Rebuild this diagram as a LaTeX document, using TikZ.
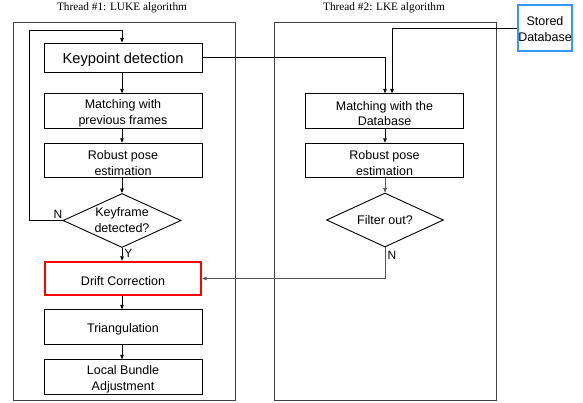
\documentclass[tikz,border=0pt]{standalone}
\usepackage{fontspec}
\setmainfont{Liberation Sans}
\newfontfamily\titlefont{Liberation Serif}
\usetikzlibrary{shapes.geometric,arrows.meta}
\definecolor{framegray}{HTML}{404040}
\definecolor{linkgray}{HTML}{555555}
\definecolor{dbblue}{HTML}{3399FF}
\tikzset{
  frame/.style={draw=framegray,line width=0.9pt},
  stepbox/.style={draw=black,line width=0.9pt,minimum width=158pt,minimum height=34.5pt,inner sep=0pt},
  boxtext/.style={inner sep=0pt,yshift=-2.5pt,align=center,font=\fontsize{12.5}{15.5}\selectfont},
  decision/.style={draw=black,line width=0.9pt,diamond,aspect=2.2,inner sep=0pt,
    minimum width=118pt,minimum height=54pt,align=center,font=\fontsize{12.5}{16}\selectfont},
  flow/.style={draw=black,line width=0.7pt,-{Triangle[length=4.5pt,width=3.5pt]}},
  link/.style={draw=linkgray,line width=0.7pt,-{Triangle[length=4.5pt,width=3.5pt]}},
  tag/.style={font=\fontsize{12}{14}\selectfont,inner sep=0pt},
  threadtitle/.style={font=\titlefont\fontsize{11.3}{13}\selectfont,inner sep=0pt}
}
\begin{document}
\begin{tikzpicture}[x=1pt,y=-1pt]
\useasboundingbox (0,0) rectangle (583,403);

% thread frames and titles
\draw[frame] (13,22) rectangle (235,400);
\draw[frame] (274,22) rectangle (496,400);
\node[threadtitle] (t1) at (122,7.5) {Thread \#1: LUKE algorithm};
\node[threadtitle] (t2) at (384,7.5) {Thread \#2: LKE algorithm};

% stored database
\node[draw=dbblue,line width=2.6pt,minimum width=54pt,minimum height=46pt,inner sep=0pt,
  label={[boxtext,yshift=1.5pt]center:{Stored\\Database}}] (db) at (545,28) {};

% thread 1
\node[stepbox,minimum height=29pt,
  label={[boxtext,yshift=0.5pt,font=\fontsize{14.7}{17}\selectfont]center:{Keypoint detection}}] (kp) at (123,57.5) {};
\node[stepbox,label={[boxtext]center:{Matching with\\previous frames}}] (m1) at (123,111) {};
\node[stepbox,label={[boxtext]center:{Robust pose\\estimation}}] (p1) at (123,160.5) {};
\node[decision] (kf) at (122,220.5) {Keyframe\\detected?};
\node[stepbox,draw=red,line width=2.4pt,minimum width=156pt,minimum height=33pt,
  label={[boxtext]center:{Drift Correction}}] (dc) at (123,278.5) {};
\node[stepbox,label={[boxtext]center:{Triangulation}}] (tr) at (123,327) {};
\node[stepbox,label={[boxtext]center:{Local Bundle\\Adjustment}}] (lb) at (123,377) {};

% thread 2
\node[stepbox,label={[boxtext]center:{Matching with the\\Database}}] (m2) at (384.5,111) {};
\node[stepbox,label={[boxtext]center:{Robust pose\\estimation}}] (p2) at (384.5,160.5) {};
\node[decision,minimum width=117pt] (fo) at (385,220) {Filter out?};

% connectors in thread 1
\draw[flow] (kp.south -| 122,0) -- (m1.north -| 122,0);
\draw[flow] (m1.south -| 122,0) -- (p1.north -| 122,0);
\draw[flow] (p1.south -| 122,0) -- (kf.north);
\draw[flow] (kf.south) -- (dc.north -| kf.south) node[tag,pos=0.45,right=2pt] {Y};
\draw[flow] (dc.south -| 122,0) -- (tr.north -| 122,0);
\draw[flow] (tr.south -| 122,0) -- (lb.north -| 122,0);
\draw[flow] (kf.west) -- (29,220.5) -- (29,30) -- (122,30) -- (kp.north -| 122,0);
\node[tag] (nkf) at (58,214) {N};

% connectors into and out of thread 2
\draw[flow] (kp.east) -- (385,57.5) -- (m2.north -| 385,0);
\draw[flow] (db.west) -- (392,28) -- (m2.north -| 392,0);
\draw[flow] (m2.south -| 385,0) -- (p2.north -| 385,0);
\draw[link] (p2.south -| 385,0) -- (fo.north);
\draw[link] (fo.south) -- (385,278.5) -- (dc.east);
\node[tag] (nfo) at (392,255) {N};
\end{tikzpicture}
\end{document}
